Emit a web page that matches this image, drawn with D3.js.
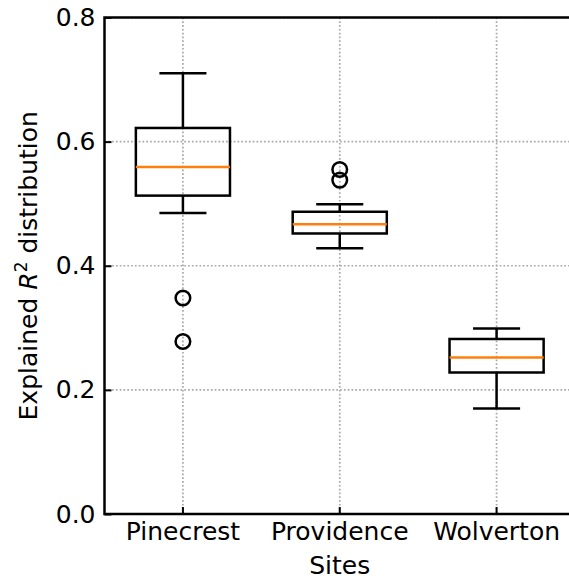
<!DOCTYPE html>
<html>
<head>
<meta charset="utf-8">
<script src="https://cdn.jsdelivr.net/npm/d3@7"></script>
<style>
  body { margin: 0; background: #fff; }
  text { font-family: "DejaVu Sans", sans-serif; }
</style>
</head>
<body>
<script>
const sites = ["Pinecrest", "Providence", "Wolverton"];
const whiskerLow = [0.485, 0.428, 0.170];
const q1 = [0.513, 0.452, 0.228];
const median = [0.559, 0.467, 0.252];
const q3 = [0.622, 0.487, 0.282];
const whiskerHigh = [0.710, 0.499, 0.299];
const outliers = [[0.348, 0.278], [0.555, 0.538], []];
const yTicks = [0.0, 0.2, 0.4, 0.6, 0.8];

const W = 569, H = 579;
const mLeft = 104.5, mRight = 575, mTop = 17.5, mBottom = 514;
const fs = 25;

const svg = d3.select("body").append("svg")
    .attr("width", W)
    .attr("height", H);

const x = d3.scaleBand().domain(sites).range([mLeft, mRight]).padding(0);
const y = d3.scaleLinear().domain([0, 0.8]).range([mBottom, mTop]);
const cx = s => x(s) + x.bandwidth() / 2;
const boxW = x.bandwidth() * 0.6;

// grid
const grid = svg.append("g").attr("stroke", "#a8a8a8").attr("stroke-width", 1.7)
    .attr("stroke-dasharray", "1.7,2.1");
grid.selectAll(".gy").data(yTicks).enter().append("line")
    .attr("x1", mLeft).attr("x2", W)
    .attr("y1", d => y(d)).attr("y2", d => y(d));
grid.selectAll(".gx").data(sites).enter().append("line")
    .attr("x1", cx).attr("x2", cx)
    .attr("y1", mTop).attr("y2", mBottom);

// boxes
const data = sites.map((s, i) => ({ s, lo: whiskerLow[i], q1: q1[i], med: median[i], q3: q3[i], hi: whiskerHigh[i], out: outliers[i] }));
const g = svg.selectAll(".box").data(data).enter().append("g").attr("class", "box")
    .attr("fill", "none").attr("stroke", "#000").attr("stroke-width", 2.5);

g.append("line").attr("x1", d => cx(d.s)).attr("x2", d => cx(d.s))
    .attr("y1", d => y(d.q3)).attr("y2", d => y(d.hi));
g.append("line").attr("x1", d => cx(d.s)).attr("x2", d => cx(d.s))
    .attr("y1", d => y(d.q1)).attr("y2", d => y(d.lo));
g.append("line").attr("x1", d => cx(d.s) - boxW / 4).attr("x2", d => cx(d.s) + boxW / 4)
    .attr("y1", d => y(d.hi)).attr("y2", d => y(d.hi));
g.append("line").attr("x1", d => cx(d.s) - boxW / 4).attr("x2", d => cx(d.s) + boxW / 4)
    .attr("y1", d => y(d.lo)).attr("y2", d => y(d.lo));
g.append("rect").attr("x", d => cx(d.s) - boxW / 2).attr("width", boxW)
    .attr("y", d => y(d.q3)).attr("height", d => y(d.q1) - y(d.q3));
g.append("line").attr("stroke", "#ff7f0e")
    .attr("x1", d => cx(d.s) - boxW / 2).attr("x2", d => cx(d.s) + boxW / 2)
    .attr("y1", d => y(d.med)).attr("y2", d => y(d.med));
g.selectAll("circle").data(d => d.out.map(v => ({ s: d.s, v }))).enter().append("circle")
    .attr("cx", d => cx(d.s)).attr("cy", d => y(d.v)).attr("r", 7.3);

// axes (ticks inward)
const yAxis = svg.append("g").attr("transform", `translate(${mLeft},0)`)
    .call(d3.axisLeft(y).tickValues(yTicks).tickFormat(d3.format(".1f")).tickSizeInner(-7).tickSizeOuter(0).tickPadding(9));
const xAxis = svg.append("g").attr("transform", `translate(0,${mBottom})`)
    .call(d3.axisBottom(x).tickSizeInner(-7).tickSizeOuter(0).tickPadding(8));
[yAxis, xAxis].forEach(a => {
    a.select(".domain").remove();
    a.selectAll("line").attr("stroke", "#000").attr("stroke-width", 2);
    a.selectAll("text").attr("font-size", fs).attr("fill", "#000").attr("font-family", "DejaVu Sans");
});

// spines
svg.append("path").attr("fill", "none").attr("stroke", "#000").attr("stroke-width", 2.5)
    .attr("d", `M${W},${mTop}H${mLeft}V${mBottom}H${W}`);

// labels
svg.append("text").attr("x", cx("Providence")).attr("y", 574)
    .attr("text-anchor", "middle").attr("font-size", fs).text("Sites");

const yl = svg.append("text").attr("transform", `translate(37,${(mTop + mBottom) / 2}) rotate(-90)`)
    .attr("text-anchor", "middle").attr("font-size", fs);
yl.append("tspan").text("Explained ");
yl.append("tspan").attr("font-style", "italic").text("R");
yl.append("tspan").attr("font-size", 17).attr("dy", -10).text("2");
yl.append("tspan").attr("dy", 10).text(" distribution");
</script>
</body>
</html>
